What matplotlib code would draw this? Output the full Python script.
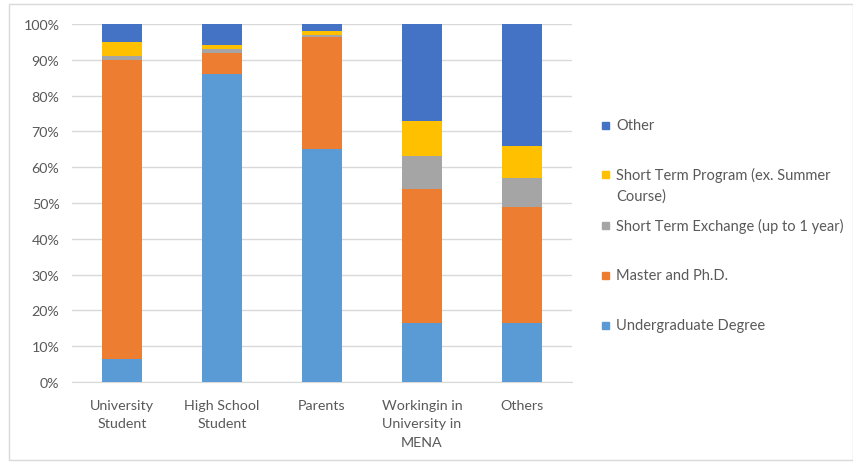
import matplotlib
matplotlib.use("Agg")
import matplotlib.pyplot as plt
from matplotlib.patches import Rectangle
from matplotlib.ticker import PercentFormatter

categories = ["University\nStudent", "High School\nStudent", "Parents",
              "Workingin in\nUniversity in\nMENA", "Others"]
series_names = ["Undergraduate Degree", "Master and Ph.D.",
                "Short Term Exchange (up to 1 year)",
                "Short Term Program (ex. Summer\nCourse)", "Other"]
undergrad = [6.5, 86.0, 65.0, 16.5, 16.5]
master = [83.5, 6.0, 31.5, 37.5, 32.5]
exchange = [1.0, 1.0, 0.5, 9.0, 8.0]
program = [4.0, 1.0, 1.0, 10.0, 9.0]
other = [5.0, 6.0, 2.0, 27.0, 34.0]
colors = ["#5B9BD5", "#ED7D31", "#A5A5A5", "#FFC000", "#4472C4"]

plt.rcParams["font.family"] = ["Lato", "DejaVu Sans"]
text_color = "#595959"

fig = plt.figure(figsize=(8.54, 4.64), dpi=100)
ax = fig.add_axes([72 / 854, 1 - 383 / 464, 500 / 854, 358 / 464])

values = [undergrad, master, exchange, program, other]
x = list(range(len(categories)))
bottom = [0.0] * len(categories)
for vals, col, name in zip(values, colors, series_names):
    ax.bar(x, vals, bottom=bottom, width=0.4, color=col, label=name, zorder=3)
    bottom = [b + v for b, v in zip(bottom, vals)]

ax.set_xlim(-0.5, len(categories) - 0.5)
ax.set_ylim(0, 100)
ax.set_yticks(range(0, 101, 10))
ax.yaxis.set_major_formatter(PercentFormatter(decimals=0))
ax.set_xticks(x)
ax.set_xticklabels(categories, linespacing=1.65)
ax.tick_params(axis="both", length=0, colors=text_color, labelsize=10.3)
ax.tick_params(axis="x", pad=12)
ax.tick_params(axis="y", pad=9)
ax.grid(axis="y", color="#D9D9D9", linewidth=1, zorder=0)
for s in ["top", "right", "left"]:
    ax.spines[s].set_visible(False)
ax.spines["bottom"].set_color("#D9D9D9")

# legend, listed top to bottom in reverse stacking order
legend_y = [126, 175, 226, 276, 326]
for name, col, yp in zip(series_names[::-1], colors[::-1], legend_y):
    yf = 1 - yp / 464
    fig.add_artist(Rectangle((602 / 854, yf - 3.5 / 464), 7 / 854, 7 / 464,
                             transform=fig.transFigure, color=col))
    fig.text(616 / 854, yf + 7 / 464, name, color=text_color, fontsize=10.5,
             va="top", ha="left", linespacing=1.6)

# chart border
fig.add_artist(Rectangle((9 / 854, 3 / 464), 844 / 854, 456 / 464,
                         transform=fig.transFigure, fill=False,
                         edgecolor="#D9D9D9", linewidth=1))

fig.savefig("out.png", dpi=100)
